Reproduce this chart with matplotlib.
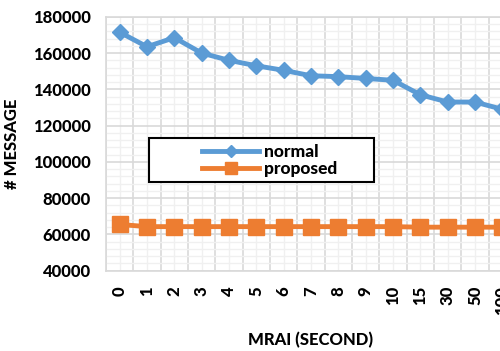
import matplotlib.pyplot as plt
import numpy as np
from matplotlib.patches import Rectangle
from matplotlib.ticker import MultipleLocator, FixedLocator

plt.rcParams['font.family'] = ['Lato', 'DejaVu Sans']
plt.rcParams['font.weight'] = 'black'

# MRAI values (seconds) and message counts
mrai = ['0', '1', '2', '3', '4', '5', '6', '7', '8', '9', '10', '15', '30', '50', '100']
normal = [171500, 163500, 168500, 160000, 156000, 153000, 150500, 147500,
          147000, 146000, 145000, 137000, 133000, 133000, 129000]
proposed = [65500, 64300, 64300, 64300, 64300, 64300, 64300, 64300,
            64300, 64300, 64300, 64000, 64000, 64000, 64000]

blue = '#5B9BD5'
orange = '#ED7D31'
W, H = 500, 351

fig = plt.figure(figsize=(W / 100, H / 100), dpi=100)
# axes run past the right edge of the canvas
left, right, top, bottom = 106, 516, 16.8, 270.7
ax = fig.add_axes([left / W, 1 - bottom / H, (right - left) / W, (bottom - top) / H])

x = np.arange(len(mrai))
ax.plot(x, normal, color=blue, lw=3.5, marker='D', ms=8.5, label='normal', zorder=3)
ax.plot(x, proposed, color=orange, lw=3.5, marker='s', ms=12, label='proposed', zorder=3)

ax.set_xlim(-0.5, len(mrai) - 0.5)
ax.set_ylim(40000, 180000)

ax.set_xticks(x)
ax.set_xticklabels(mrai, rotation=90, va='top', ha='center')
ax.xaxis.set_minor_locator(FixedLocator(np.arange(-0.5, len(mrai), 1.0)))
ax.yaxis.set_major_locator(MultipleLocator(20000))
ax.yaxis.set_minor_locator(MultipleLocator(4000))
ax.tick_params(axis='both', which='both', length=0, labelsize=12, pad=11)

# light grid: darker at category boundaries / every 20000
ax.grid(True, axis='x', which='minor', color='#D9D9D9', lw=1.2)
ax.grid(True, axis='x', which='major', color='#F0F0F0', lw=1.0)
ax.grid(True, axis='y', which='major', color='#D9D9D9', lw=1.2)
ax.grid(True, axis='y', which='minor', color='#F0F0F0', lw=1.0)
ax.set_axisbelow(True)
for s in ax.spines.values():
    s.set_color('#D9D9D9')
    s.set_linewidth(1.2)

ax.set_ylabel('# MESSAGE', fontsize=12, fontweight='black', va='center')
ax.yaxis.set_label_coords((12 - left) / (right - left), 0.5)
ax.set_xlabel('MRAI (SECOND)', fontsize=12, fontweight='black', va='center')
ax.xaxis.set_label_coords((310 - left) / (right - left), (bottom - 340) / (bottom - top))

# legend box
bx0, bx1, by0, by1 = 149, 374, 138, 182
box = Rectangle((bx0 / W, 1 - by1 / H), (bx1 - bx0) / W, (by1 - by0) / H,
                transform=fig.transFigure, facecolor='white', edgecolor='black',
                lw=1.5, zorder=4)
fig.add_artist(box)
leg = fig.legend(loc='center left', bbox_to_anchor=(202 / W, 1 - 160.5 / H),
                 frameon=False, fontsize=12.5, handlelength=3.3, handletextpad=0.25,
                 borderpad=0, borderaxespad=0, labelspacing=0.1, markerscale=0.75)
leg.set_zorder(5)

fig.savefig('out.png', dpi=100)
